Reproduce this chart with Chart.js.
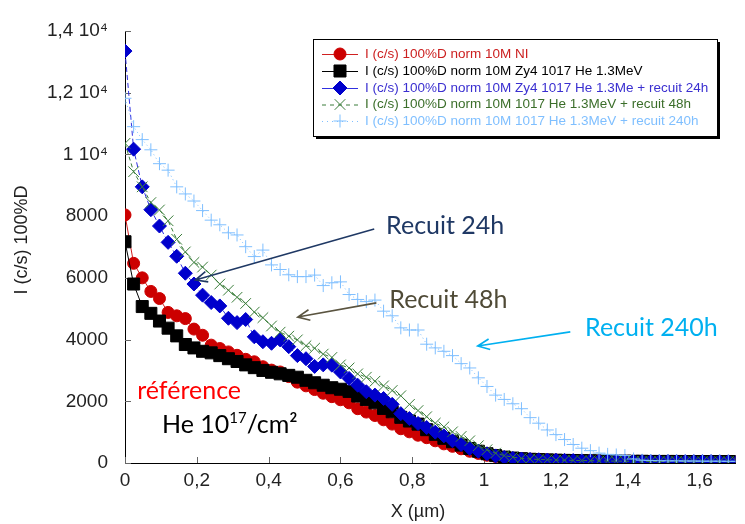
<!DOCTYPE html>
<html>
<head>
<meta charset="utf-8">
<script src="https://cdn.jsdelivr.net/npm/chart.js@4.4.0/dist/chart.umd.min.js"></script>
<style>
body { margin: 0; background: #fff; }
#wrap { width: 745px; height: 524px; }
</style>
</head>
<body>
<div id="wrap"><canvas id="chart" width="745" height="524"></canvas></div>
<script>
// depth (µm)
const xValues = [
  0, 0.024, 0.048, 0.072, 0.096, 0.12, 0.144, 0.168, 0.192, 0.216, 0.24, 0.264,
  0.288, 0.312, 0.336, 0.36, 0.384, 0.408, 0.432, 0.456, 0.48, 0.504, 0.528, 0.552,
  0.576, 0.6, 0.624, 0.648, 0.672, 0.696, 0.72, 0.744, 0.768, 0.792, 0.816, 0.84,
  0.864, 0.888, 0.912, 0.936, 0.96, 0.984, 1.008, 1.032, 1.056, 1.08, 1.104, 1.128,
  1.152, 1.176, 1.2, 1.224, 1.248, 1.272, 1.296, 1.32, 1.344, 1.368, 1.392, 1.416,
  1.44, 1.464, 1.488, 1.512, 1.536, 1.56, 1.584, 1.608, 1.632, 1.656, 1.68, 1.704
];

const niValues = [
  8040, 6470, 6000, 5560, 5330, 4880, 4770, 4680, 4340, 4140, 3820, 3710,
  3600, 3490, 3360, 3280, 3120, 3010, 2950, 2800, 2620, 2500, 2380, 2260,
  2150, 2050, 1950, 1760, 1650, 1540, 1400, 1260, 1110, 1010, 900, 820,
  720, 620, 540, 460, 380, 310, 250, 210, 180, 150, 130, 120,
  110, 100, 95, 85, 80, 75, 70, 65, 60, 60, 55, 55,
  50, 50, 50, 45, 45, 45, 40, 40, 40, 40, 40, 40
];

const zy4Values = [
  7170, 5800, 5070, 4850, 4600, 4370, 4120, 3840, 3730, 3620, 3570, 3480,
  3380, 3290, 3180, 3090, 3000, 2940, 2890, 2840, 2780, 2680, 2600, 2520,
  2440, 2390, 2320, 2170, 2060, 1950, 1770, 1660, 1480, 1360, 1260, 1080,
  930, 800, 690, 580, 470, 380, 300, 240, 190, 160, 140, 120,
  110, 100, 90, 85, 80, 75, 70, 65, 65, 60, 60, 55,
  55, 50, 50, 50, 50, 45, 45, 45, 45, 45, 45, 45
];

const recuit24Values = [
  13350, 10170, 8950, 8210, 7680, 7150, 6700, 6150, 5800, 5440, 5200, 5090,
  4690, 4550, 4650, 4090, 3930, 3880, 3990, 3770, 3480, 3380, 3130, 3180,
  3170, 2950, 2740, 2520, 2310, 2200, 2090, 1900, 1600, 1440, 1280, 1150,
  1000, 880, 720, 600, 470, 380, 300, 230, 180, 150, 130, 115,
  105, 95, 90, 85, 80, 75, 70, 65, 60, 60, 55, 55,
  50, 50, 50, 50, 45, 45, 45, 45, 45, 40, 40, 40
];

const recuit48Values = [
  10360, 9440, 8950, 8440, 8200, 7850, 7250, 6840, 6500, 6350, 6090, 5800,
  5600, 5370, 5170, 4890, 4710, 4440, 4240, 4110, 3990, 3800, 3720, 3530,
  3420, 3180, 3080, 2890, 2780, 2650, 2500, 2350, 2180, 1900, 1700, 1500,
  1290, 1170, 1010, 860, 720, 560, 430, 320, 240, 190, 150, 130,
  115, 105, 95, 90, 85, 80, 75, 70, 65, 60, 60, 55,
  55, 50, 50, 50, 50, 45, 45, 45, 45, 45, 45, 45
];

const recuit240Values = [
  11820, 10900, 10480, 10150, 9700, 9490, 8950, 8720, 8490, 8180, 7870, 7720,
  7460, 7390, 7010, 6690, 6900, 6420, 6270, 6100, 6040, 6040, 6090, 5750,
  5840, 5870, 5460, 5300, 5230, 5280, 4920, 4770, 4380, 4310, 4310, 3850,
  3730, 3620, 3480, 3220, 3080, 2760, 2480, 2200, 2060, 1920, 1760, 1470,
  1290, 1070, 920, 760, 600, 480, 400, 320, 280, 260, 240, 130,
  90, 80, 75, 70, 70, 65, 65, 60, 60, 60, 55, 55
];

const seriesNames = [
  "I (c/s) 100%D norm 10M NI",
  "I (c/s) 100%D norm 10M Zy4 1017 He 1.3MeV",
  "I (c/s) 100%D norm 10M Zy4 1017 He 1.3Me + recuit 24h",
  "I (c/s) 100%D norm 10M 1017 He 1.3MeV + recuit 48h",
  "I (c/s) 100%D norm 10M 1017 He 1.3MeV + recuit 240h"
];

const xTicks = [0, 0.2, 0.4, 0.6, 0.8, 1, 1.2, 1.4, 1.6];
const xTickLabels = ["0", "0,2", "0,4", "0,6", "0,8", "1", "1,2", "1,4", "1,6"];
const yTicks = [0, 2000, 4000, 6000, 8000, 10000, 12000, 14000];
const yTickLabels = ["0", "2000", "4000", "6000", "8000", "1 10\u2074", "1,2 10\u2074", "1,4 10\u2074"];

const sansFont = "'Liberation Sans', Arial, sans-serif";

function pts(values) {
  return xValues.map(function (x, i) { return { x: x, y: values[i] }; });
}

const styles = [
  { color: "#cc0000", line: "#d02020", text: "#cc2020", point: "circle", r: 6, dash: [], legendDash: [] },
  { color: "#000000", line: "#000000", text: "#000000", point: "rect", r: 8.5, dash: [], legendDash: [] },
  { color: "#0000cc", line: "#3030e0", text: "#3a2fd0", point: "rectRot", r: 7, dash: [5, 3], legendDash: [] },
  { color: "#3a7d3a", line: "#3a7d3a", text: "#3b6e2a", point: "crossRot", r: 7.5, dash: [4, 3], legendDash: [4, 4] },
  { color: "#7fbfff", line: "#7fbfff", text: "#7fbfff", point: "cross", r: 6.5, dash: [1, 3], legendDash: [1, 4] }
];

const seriesValues = [niValues, zy4Values, recuit24Values, recuit48Values, recuit240Values];

const datasets = seriesValues.map(function (vals, i) {
  const s = styles[i];
  return {
    label: seriesNames[i],
    data: pts(vals),
    borderColor: s.line,
    borderWidth: 1,
    borderDash: s.dash,
    backgroundColor: s.color,
    pointStyle: s.point,
    pointRadius: s.r,
    pointBorderColor: s.color,
    pointBackgroundColor: s.color,
    pointBorderWidth: 1,
    tension: 0,
    order: 5 - i
  };
});

// text notes placed in data units
const notes = [
  { text: "Recuit 24h", x: 0.727, y: 7420, color: "#1f3864" },
  { text: "Recuit 48h", x: 0.736, y: 5020, color: "#4f4a36" },
  { text: "Recuit 240h", x: 1.281, y: 4120, color: "#00b0f0" },
  { text: "r\u00e9f\u00e9rence", x: 0.034, y: 2070, color: "#ff0000" }
];
const arrows = [
  { from: [0.694, 7580], to: [0.196, 5930], color: "#1f3864" },
  { from: [0.700, 5190], to: [0.481, 4730], color: "#5a5440" },
  { from: [1.240, 4250], to: [0.982, 3790], color: "#00b0f0" }
];

function drawArrow(ctx, x1, y1, x2, y2, color) {
  const a = Math.atan2(y1 - y2, x1 - x2);
  const len = 13, spread = 0.42;
  ctx.strokeStyle = color;
  ctx.lineWidth = 1.6;
  ctx.beginPath();
  ctx.moveTo(x1, y1);
  ctx.lineTo(x2, y2);
  ctx.moveTo(x2 + len * Math.cos(a + spread), y2 + len * Math.sin(a + spread));
  ctx.lineTo(x2, y2);
  ctx.lineTo(x2 + len * Math.cos(a - spread), y2 + len * Math.sin(a - spread));
  ctx.stroke();
}

const overlay = {
  id: "overlay",
  beforeDatasetsDraw(chart) {
    const ctx = chart.ctx, area = chart.chartArea;
    const xs = chart.scales.x, ys = chart.scales.y;
    ctx.save();
    ctx.strokeStyle = "#666";
    ctx.lineWidth = 1;
    ys.ticks.forEach(function (t) {
      const y = Math.round(ys.getPixelForValue(t.value)) + 0.5;
      ctx.beginPath(); ctx.moveTo(area.left, y); ctx.lineTo(area.left + 6, y); ctx.stroke();
    });
    xs.ticks.forEach(function (t) {
      const x = Math.round(xs.getPixelForValue(t.value)) + 0.5;
      ctx.beginPath(); ctx.moveTo(x, area.bottom); ctx.lineTo(x, area.bottom - 6); ctx.stroke();
    });
    ctx.restore();
  },
  afterDraw(chart) {
    const ctx = chart.ctx;
    const xs = chart.scales.x, ys = chart.scales.y;
    ctx.save();

    // axis titles
    ctx.fillStyle = "#222";
    ctx.font = "18px " + sansFont;
    ctx.textAlign = "center";
    ctx.textBaseline = "middle";
    ctx.fillText("X (\u00b5m)", 418, 512);
    ctx.save();
    ctx.translate(22, 240);
    ctx.rotate(-Math.PI / 2);
    ctx.fillText("I (c/s) 100%D", 0, 0);
    ctx.restore();

    // legend box
    const bx = 313, by = 39, bw = 404, bh = 97;
    ctx.fillStyle = "#000";
    ctx.fillRect(bx + 3, by + 3, bw, bh);
    ctx.fillStyle = "#fff";
    ctx.fillRect(bx, by, bw, bh);
    ctx.strokeStyle = "#000";
    ctx.lineWidth = 1;
    ctx.strokeRect(bx + 0.5, by + 0.5, bw, bh);
    ctx.font = "13.5px " + sansFont;
    ctx.textAlign = "left";
    ctx.textBaseline = "middle";
    const rowY = [54, 71, 88, 104.5, 121];
    seriesNames.forEach(function (name, i) {
      const s = styles[i], y = rowY[i];
      ctx.strokeStyle = s.line;
      ctx.lineWidth = 1;
      ctx.setLineDash(s.legendDash);
      ctx.beginPath(); ctx.moveTo(322, y + 0.5); ctx.lineTo(358, y + 0.5); ctx.stroke();
      ctx.setLineDash([]);
      ctx.fillStyle = s.color;
      ctx.strokeStyle = s.color;
      Chart.helpers.drawPoint(ctx, { pointStyle: s.point, radius: s.r, rotation: 0, borderWidth: 1 }, 340, y);
      ctx.fillStyle = s.text;
      ctx.fillText(name, 365, y);
    });

    // notes and arrows
    ctx.font = "25px Lato, 'Open Sans', sans-serif";
    ctx.textBaseline = "alphabetic";
    notes.forEach(function (n) {
      ctx.fillStyle = n.color;
      ctx.fillText(n.text, xs.getPixelForValue(n.x), ys.getPixelForValue(n.y));
    });
    arrows.forEach(function (a) {
      drawArrow(ctx, xs.getPixelForValue(a.from[0]), ys.getPixelForValue(a.from[1]),
        xs.getPixelForValue(a.to[0]), ys.getPixelForValue(a.to[1]), a.color);
    });

    // He 10^17/cm²
    let hx = xs.getPixelForValue(0.103);
    const hy = ys.getPixelForValue(970);
    ctx.fillStyle = "#000";
    ctx.fillText("He 10", hx, hy);
    hx += ctx.measureText("He 10").width;
    ctx.font = "15px Lato, 'Open Sans', sans-serif";
    ctx.fillText("17", hx, hy - 10);
    hx += ctx.measureText("17").width;
    ctx.font = "25px Lato, 'Open Sans', sans-serif";
    ctx.fillText("/cm\u00b2", hx, hy);
    ctx.restore();
  }
};

new Chart(document.getElementById("chart"), {
  type: "line",
  data: { datasets: datasets },
  plugins: [overlay],
  options: {
    responsive: false,
    animation: false,
    devicePixelRatio: 1,
    layout: { padding: { top: 31, right: 0, left: 0, bottom: 0 } },
    plugins: { legend: { display: false }, tooltip: { enabled: false } },
    scales: {
      x: {
        type: "linear",
        min: 0,
        max: 1.7,
        afterBuildTicks: function (s) { s.ticks = xTicks.map(function (v) { return { value: v }; }); },
        afterFit: function (s) { s.height = 61; },
        ticks: {
          color: "#222",
          font: { family: sansFont, size: 19 },
          padding: 6,
          maxRotation: 0,
          autoSkip: false,
          callback: function (v, i) { return xTickLabels[i]; }
        },
        grid: { display: true, drawOnChartArea: false, drawTicks: false },
        border: { display: true, color: "#000", width: 1 }
      },
      y: {
        min: 0,
        max: 14000,
        afterBuildTicks: function (s) { s.ticks = yTicks.map(function (v) { return { value: v }; }); },
        afterFit: function (s) { s.width = 125; },
        ticks: {
          color: "#222",
          font: { family: sansFont, size: 19 },
          padding: 17,
          autoSkip: false,
          callback: function (v, i) { return yTickLabels[i]; }
        },
        grid: { display: true, drawOnChartArea: false, drawTicks: false },
        border: { display: true, color: "#000", width: 1 }
      }
    }
  }
});
</script>
</body>
</html>
